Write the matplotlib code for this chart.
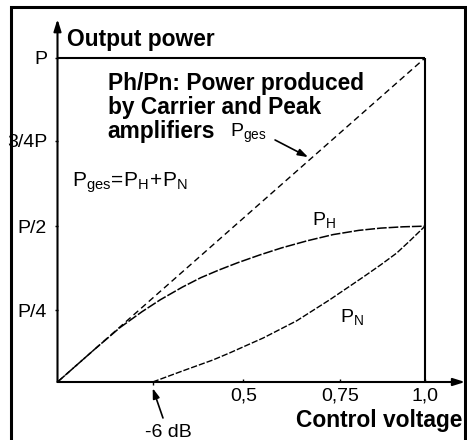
import matplotlib
matplotlib.use("Agg")
import matplotlib.pyplot as plt
from matplotlib.patches import Rectangle

plt.rcParams["font.family"] = ["Liberation Sans", "DejaVu Sans"]
plt.rcParams["mathtext.fontset"] = "custom"
plt.rcParams["mathtext.rm"] = "Liberation Sans"
plt.rcParams["lines.scale_dashes"] = False

# Total power: straight rise up to full output P
x_ges = [0.0, 1.0]
y_ges = [0.0, 1.0]

# Carrier amplifier power P_H
x_h = [0.0, 0.10, 0.17, 0.23, 0.28, 0.34, 0.39, 0.44, 0.49, 0.55, 0.61,
       0.68, 0.75, 0.82, 0.88, 0.94, 1.0]
y_h = [0.0, 0.100, 0.168, 0.217, 0.254, 0.293, 0.322, 0.346, 0.368, 0.392,
       0.414, 0.436, 0.455, 0.468, 0.475, 0.479, 0.481]

# Peak amplifier power P_N, switching on at -6 dB
x_n = [0.259, 0.34, 0.423, 0.469, 0.56, 0.651, 0.741, 0.832, 0.88, 0.923,
       0.96, 1.0]
y_n = [0.0, 0.034, 0.068, 0.090, 0.136, 0.189, 0.254, 0.324, 0.362, 0.398,
       0.437, 0.481]

# Axis ticks
y_tick_pos = [0.222, 0.481, 0.744, 1.0]
y_tick_labels = ["P/4", "P/2", "3/4P", "P"]
x_tick_pos = [0.506, 0.769, 1.0]
x_tick_labels = ["0,5", "0,75", "1,0"]
x_6db = 0.259

W, H, DPI = 467, 440, 100
fig = plt.figure(figsize=(W / DPI, H / DPI), dpi=DPI)

# axes geometry in pixels
ox, oy = 57.5, 382.0          # origin
ux, uy = 367.5, 324.0         # length of one unit
xmax, ymax = 1.109, 1.12
ax = fig.add_axes([ox / W, (H - oy) / H, xmax * ux / W, ymax * uy / H])
ax.set_xlim(0, xmax)
ax.set_ylim(0, ymax)
for s in ax.spines.values():
    s.set_visible(False)
ax.patch.set_visible(False)

lw_axis = 1.5
# axes with arrowheads
ax.annotate("", xy=(0, ymax), xytext=(0, 0),
            arrowprops=dict(arrowstyle="-|>,head_length=0.7,head_width=0.22",
                            lw=lw_axis, color="black", shrinkA=0, shrinkB=0),
            annotation_clip=False)
ax.annotate("", xy=(xmax, 0), xytext=(0, 0),
            arrowprops=dict(arrowstyle="-|>,head_length=0.7,head_width=0.22",
                            lw=lw_axis, color="black", shrinkA=0, shrinkB=0),
            annotation_clip=False)

# frame at full power / full control voltage
ax.plot([0, 1], [1, 1], color="black", lw=lw_axis, solid_capstyle="butt")
ax.plot([1, 1], [0, 1], color="black", lw=lw_axis, solid_capstyle="butt")

# curves
ax.plot(x_ges, y_ges, color="black", lw=1.0, dashes=(4.5, 2.8))
ax.plot(x_h, y_h, color="black", lw=1.1, dashes=(7.0, 1.4))
ax.plot(x_n, y_n, color="black", lw=1.0, dashes=(4.5, 1.4))

# ticks
reg = 14
bold = 16.4
ax.set_yticks(y_tick_pos)
ax.set_yticklabels(y_tick_labels)
ax.set_xticks(x_tick_pos)
ax.set_xticklabels(x_tick_labels)
ax.set_xticks([x_6db], minor=True)
ax.tick_params(axis="y", direction="out", length=2.5, width=1.0, pad=5,
               labelsize=reg)
ax.tick_params(axis="x", which="major", direction="in", length=2.5, width=1.0,
               pad=4, labelsize=reg)
ax.tick_params(axis="x", which="minor", direction="out", length=2.5, width=1.0)

# texts
ax.text(0.026, 1.037, "Output power", fontsize=bold, fontweight="bold",
        va="baseline", ha="left")
ax.text(0.137, 0.901, "Ph/Pn: Power produced", fontsize=bold,
        fontweight="bold", va="baseline", ha="left")
ax.text(0.137, 0.827, "by Carrier and Peak", fontsize=bold,
        fontweight="bold", va="baseline", ha="left")
ax.text(0.137, 0.753, "amplifiers", fontsize=bold,
        fontweight="bold", va="baseline", ha="left")
ax.text(0.469, 0.756, r"$\mathregular{P_{ges}}$", fontsize=reg,
        va="baseline", ha="left")
ax.text(0.039, 0.602, r"$\mathregular{P_{ges}\!=\!P_H\!+\!P_N}$", fontsize=15,
        va="baseline", ha="left")
ax.text(0.693, 0.485, r"$\mathregular{P_H}$", fontsize=reg,
        va="baseline", ha="left")
ax.text(0.769, 0.185, r"$\mathregular{P_N}$", fontsize=reg,
        va="baseline", ha="left")
ax.text(1.101, -0.139, "Control voltage", fontsize=bold, fontweight="bold",
        va="baseline", ha="right")
ax.text(0.303, -0.170, "-6 dB", fontsize=reg, va="baseline", ha="center")

# pointer arrows
ax.annotate("", xy=(0.682, 0.694), xytext=(0.592, 0.747),
            arrowprops=dict(arrowstyle="-|>,head_length=0.6,head_width=0.2",
                            lw=1.2, color="black", shrinkA=0, shrinkB=0),
            annotation_clip=False)
ax.annotate("", xy=(x_6db, -0.019), xytext=(0.287, -0.111),
            arrowprops=dict(arrowstyle="-|>,head_length=0.6,head_width=0.2",
                            lw=1.2, color="black", shrinkA=0, shrinkB=0),
            annotation_clip=False)

# outer frame
fig.patches.append(Rectangle((10.5 / W, -0.1), (464.5 - 10.5) / W,
                             1.1 - 7.0 / H, transform=fig.transFigure,
                             fill=False, edgecolor="black", lw=2.2))

fig.savefig("out.png", dpi=DPI)
